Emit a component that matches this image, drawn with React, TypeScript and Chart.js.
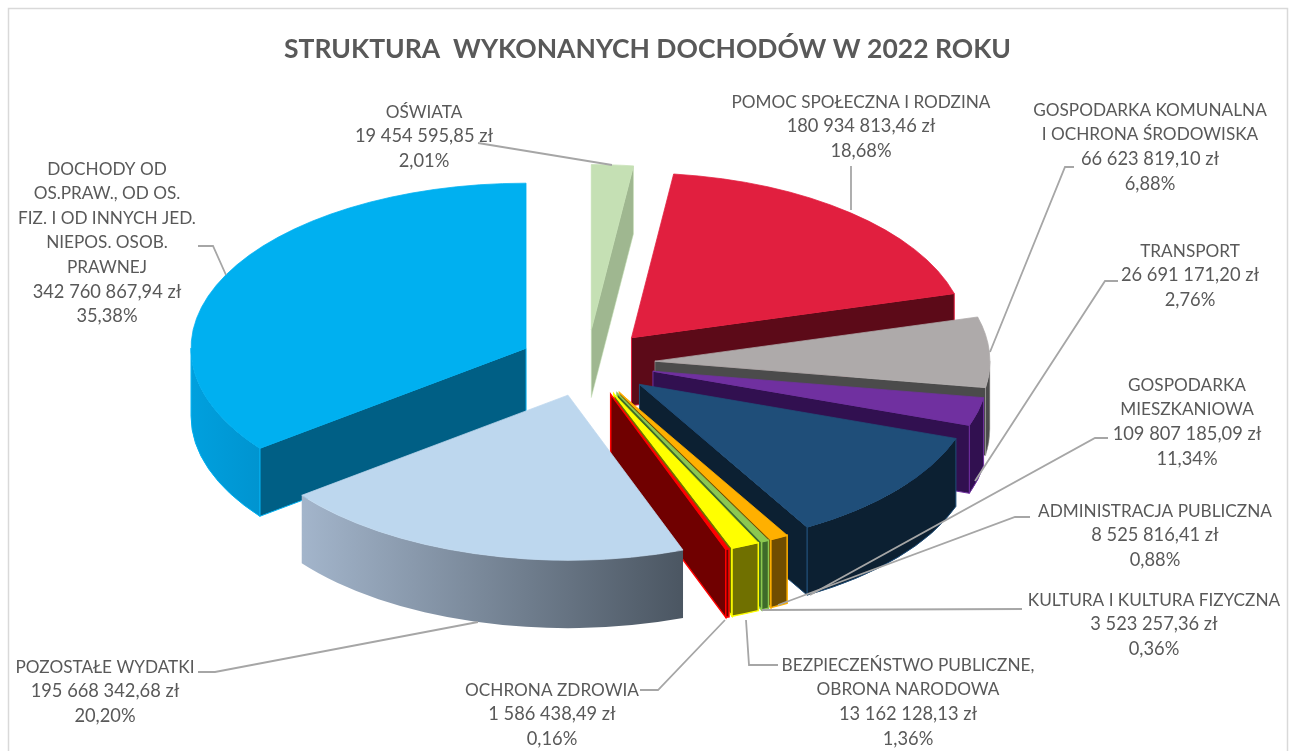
import React, { useEffect, useRef } from "react";
import { Chart, registerables } from "chart.js";

Chart.register(...registerables);

const TITLE = "STRUKTURA  WYKONANYCH DOCHODÓW W 2022 ROKU";

const categoryLines: string[][] = [
  ["OŚWIATA"],
  ["POMOC SPOŁECZNA I RODZINA"],
  ["GOSPODARKA KOMUNALNA", "I OCHRONA ŚRODOWISKA"],
  ["TRANSPORT"],
  ["GOSPODARKA", "MIESZKANIOWA"],
  ["ADMINISTRACJA PUBLICZNA"],
  ["KULTURA I KULTURA FIZYCZNA"],
  ["BEZPIECZEŃSTWO PUBLICZNE,", "OBRONA NARODOWA"],
  ["OCHRONA ZDROWIA"],
  ["POZOSTAŁE WYDATKI"],
  ["DOCHODY OD", "OS.PRAW., OD OS.", "FIZ. I OD INNYCH JED.", "NIEPOS. OSOB.", "PRAWNEJ"],
];
const values = [
  19454595.85, 180934813.46, 66623819.1, 26691171.2, 109807185.09, 8525816.41,
  3523257.36, 13162128.13, 1586438.49, 195668342.68, 342760867.94,
];
const amounts = [
  "19 454 595,85 zł", "180 934 813,46 zł", "66 623 819,10 zł", "26 691 171,20 zł",
  "109 807 185,09 zł", "8 525 816,41 zł", "3 523 257,36 zł", "13 162 128,13 zł",
  "1 586 438,49 zł", "195 668 342,68 zł", "342 760 867,94 zł",
];
const percents = [
  "2,01%", "18,68%", "6,88%", "2,76%", "11,34%", "0,88%", "0,36%", "1,36%", "0,16%", "20,20%", "35,38%",
];

const topColors = [
  "#C5E0B4", "#E11F3F", "#AEAAAA", "#7030A0", "#1F4E79", "#FFB000", "#8CC850", "#FFFF00", "#FF0000", "#BDD7EE", "#00B0F0",
];
const wallColors = [
  "#9FB790", "#5C0A18", "#4B4B4B", "#311050", "#0C2032", "#704D00", "#3E6B2A", "#707000", "#700000", "#56626E", "#005F85",
];
const rimLeft = [
  "#9FB790", "#5C0A18", "#4B4B4B", "#311050", "#0C2032", "#704D00", "#3E6B2A", "#707000", "#700000", "#A3B5CB", "#00A0DE",
];
const rimRight = [
  "#9FB790", "#5C0A18", "#4B4B4B", "#311050", "#0C2032", "#704D00", "#3E6B2A", "#707000", "#700000", "#4B5662", "#0094D0",
];
const edgeWidths = [0.5, 1, 0.5, 1, 1, 1.5, 1.5, 1.5, 1.5, 0, 1];
const paintOrder = [0, 1, 10, 2, 3, 4, 5, 6, 7, 8, 9];

const PIE_X = 587;
const PIE_Y = 363;
const PIE_RADIUS = 335;
const TILT = 0.4925;
const DEPTH = 68;
const EXPLODE = 68;

const labelX = [424, 861, 1150, 1190, 1187, 1155, 1154, 908, 552, 105, 107];
const labelY = [112, 102, 110, 251, 385, 511, 600, 665, 690, 667, 169];
const LINE_STEP = 24.6;

const leaders: number[][][] = [
  [[478, 143], [612, 165]],
  [[851, 166], [851, 210]],
  [[1074, 167], [1065, 167], [990, 352]],
  [[1118, 281], [1105, 281], [975, 481]],
  [[1108, 438], [1095, 438], [810, 595]],
  [[1030, 517], [1015, 517], [778, 605]],
  [[1022, 609], [762, 610]],
  [[778, 665], [749, 665], [746, 620]],
  [[640, 690], [658, 690], [725, 620]],
  [[198, 672], [215, 672], [478, 622]],
  [[198, 246], [213, 246], [226, 275]],
];

const frame = { left: 8.5, top: 8.5, right: 1287.5, bottom: 751 };

const FONT = 'Lato, "Open Sans", sans-serif';

const tiltedPie = {
  id: "tiltedPie",
  beforeDraw(chart: any) {
    const ctx = chart.ctx;
    ctx.save();
    ctx.strokeStyle = "#D9D9D9";
    ctx.lineWidth = 1.5;
    ctx.beginPath();
    ctx.moveTo(frame.left, frame.bottom);
    ctx.lineTo(frame.left, frame.top);
    ctx.lineTo(frame.right, frame.top);
    ctx.lineTo(frame.right, frame.bottom);
    ctx.stroke();
    ctx.restore();
  },
  beforeDatasetDraw(chart: any, args: any) {
    const ctx = chart.ctx;
    const arcs = chart.getDatasetMeta(args.index).data;
    for (const i of paintOrder) {
      const arc = arcs[i];
      const { x, y, startAngle, endAngle, outerRadius } = arc.getProps(
        ["x", "y", "startAngle", "endAngle", "outerRadius"],
        true
      );
      const mid = (startAngle + endAngle) / 2;
      const cx = PIE_X + Math.cos(mid) * EXPLODE;
      const cy = PIE_Y + Math.sin(mid) * EXPLODE * TILT;
      const rx = outerRadius;
      const ry = outerRadius * TILT;

      const wall = (a: number) => {
        const px = cx + Math.cos(a) * rx;
        const py = cy + Math.sin(a) * ry;
        ctx.beginPath();
        ctx.moveTo(cx, cy);
        ctx.lineTo(px, py);
        ctx.lineTo(px, py + DEPTH);
        ctx.lineTo(cx, cy + DEPTH);
        ctx.closePath();
        ctx.fillStyle = wallColors[i];
        ctx.fill();
        if (edgeWidths[i] > 0) {
          ctx.strokeStyle = topColors[i];
          ctx.lineWidth = edgeWidths[i];
          ctx.stroke();
        }
      };

      ctx.save();
      // cut faces: only those that turn towards the viewer
      if (Math.sin(startAngle - Math.PI / 2) > 0) wall(startAngle);
      if (Math.sin(endAngle + Math.PI / 2) > 0) wall(endAngle);

      // outer rim: the part on the near half of the ellipse
      const a1 = Math.max(startAngle, 0);
      const a2 = Math.min(endAngle, Math.PI);
      if (a2 > a1) {
        const g = ctx.createLinearGradient(cx + Math.cos(a2) * rx, 0, cx + Math.cos(a1) * rx, 0);
        g.addColorStop(0, rimLeft[i]);
        g.addColorStop(1, rimRight[i]);
        ctx.beginPath();
        ctx.ellipse(cx, cy, rx, ry, 0, a1, a2, false);
        ctx.ellipse(cx, cy + DEPTH, rx, ry, 0, a2, a1, true);
        ctx.closePath();
        ctx.fillStyle = g;
        ctx.fill();
        if (edgeWidths[i] > 0) {
          ctx.strokeStyle = topColors[i];
          ctx.lineWidth = edgeWidths[i];
          ctx.stroke();
        }
      }
      ctx.restore();

      // top face: the library's own arc element, squashed into the tilted plane
      ctx.save();
      ctx.translate(cx, cy);
      ctx.scale(1, TILT);
      ctx.translate(-x, -y);
      arc.draw(ctx);
      ctx.restore();
    }
    return false;
  },
  afterDatasetsDraw(chart: any) {
    const ctx = chart.ctx;
    ctx.save();
    ctx.strokeStyle = "#A6A6A6";
    ctx.lineWidth = 1.8;
    for (const pts of leaders) {
      ctx.beginPath();
      pts.forEach(([px, py], k) => (k ? ctx.lineTo(px, py) : ctx.moveTo(px, py)));
      ctx.stroke();
    }
    ctx.fillStyle = "#595959";
    ctx.textAlign = "center";
    ctx.textBaseline = "middle";
    categoryLines.forEach((lines, i) => {
      const all = [...lines, amounts[i], percents[i]];
      all.forEach((t, k) => {
        ctx.font = k < lines.length ? `17.2px ${FONT}` : `18.3px ${FONT}`;
        ctx.fillText(t, labelX[i], labelY[i] + k * LINE_STEP);
      });
    });
    ctx.restore();
  },
};

export default function App() {
  const ref = useRef<HTMLCanvasElement>(null);
  useEffect(() => {
    const chart = new Chart(ref.current as HTMLCanvasElement, {
      type: "pie",
      data: {
        labels: categoryLines.map((l) => l.join(" ")),
        datasets: [
          {
            data: values,
            backgroundColor: topColors,
            borderColor: topColors,
            borderWidth: 1,
          },
        ],
      },
      options: {
        responsive: false,
        animation: false,
        radius: PIE_RADIUS,
        layout: { padding: { left: 6 } },
        plugins: {
          legend: { display: false },
          tooltip: { enabled: false },
          title: {
            display: true,
            text: TITLE,
            color: "#595959",
            font: { family: FONT, size: 26.5, weight: "bold" },
            padding: { top: 34, bottom: 10 },
          },
        },
      } as any,
      plugins: [tiltedPie as any],
    });
    return () => chart.destroy();
  }, []);
  return (
    <div style={{ position: "fixed", left: 0, top: 0, width: 1289, height: 751, background: "#fff" }}>
      <canvas ref={ref} width={1289} height={751} style={{ display: "block" }} />
    </div>
  );
}
